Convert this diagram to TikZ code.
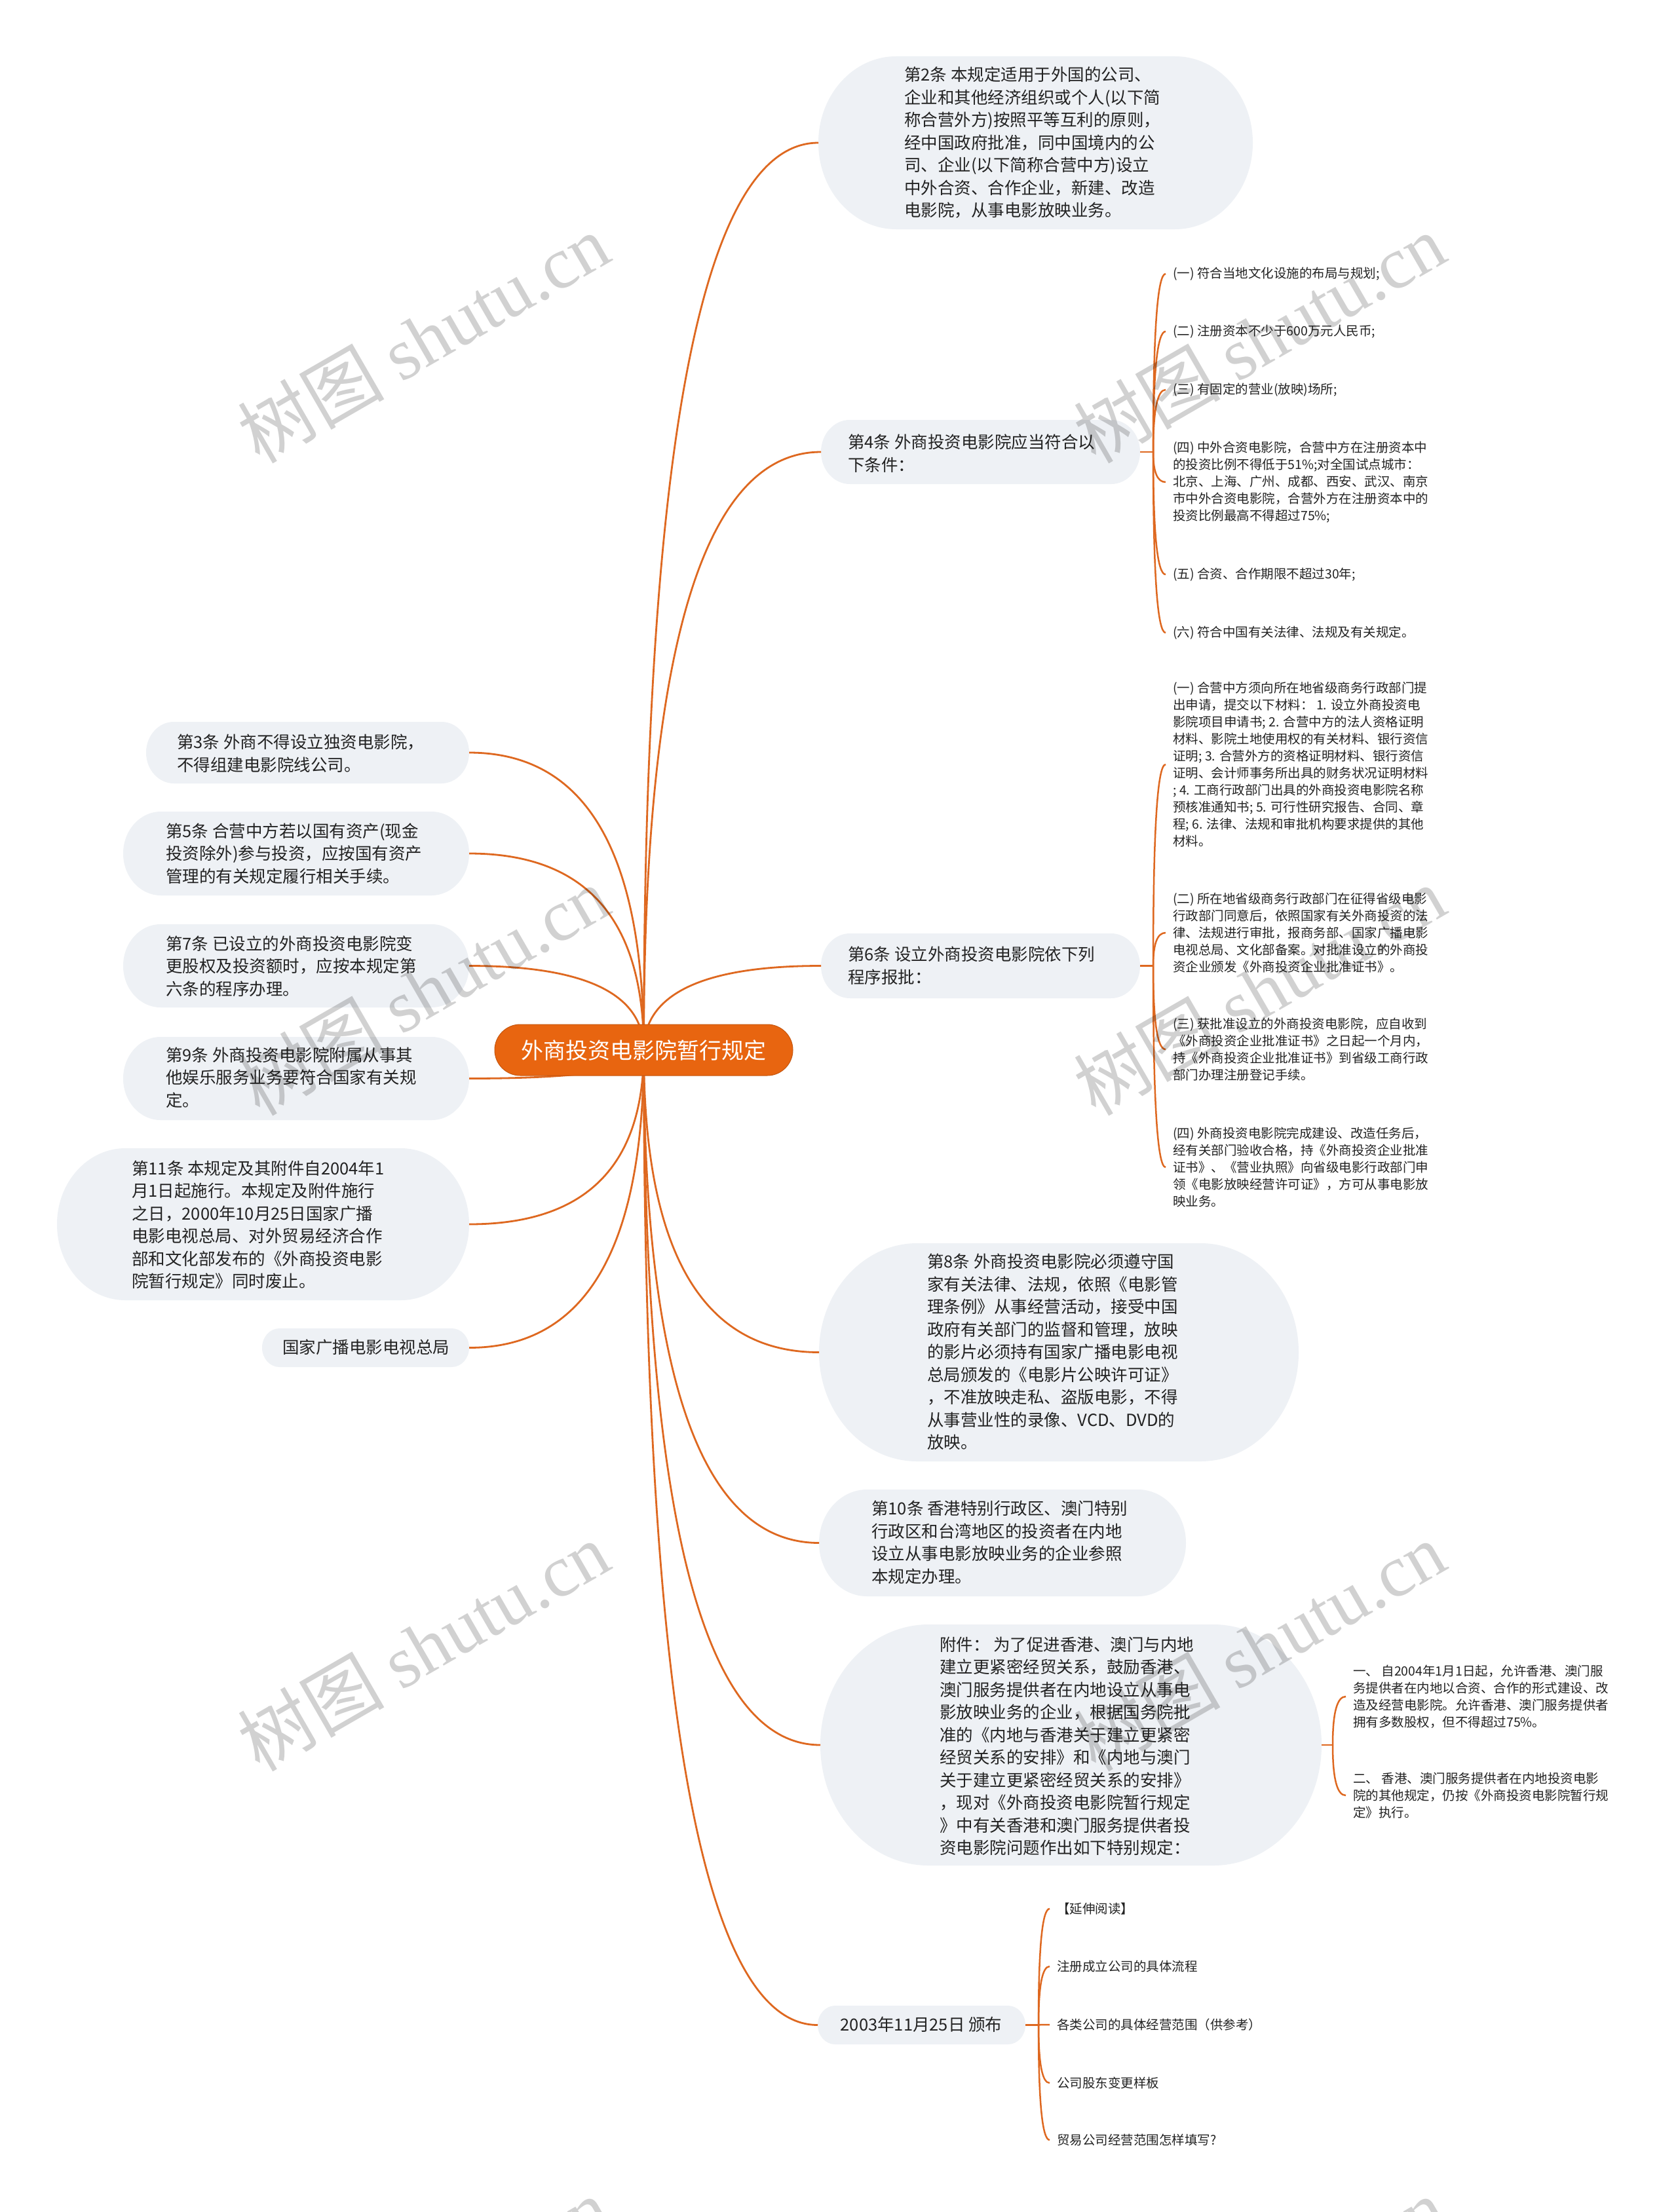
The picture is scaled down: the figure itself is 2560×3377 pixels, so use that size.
\documentclass[tikz,border=0pt]{standalone}
\usepackage{fontspec}
\setmainfont{Noto Sans CJK SC}
\newfontfamily\wmfont{Liberation Serif}
\usetikzlibrary{calc}
\pgfdeclarelayer{background}
\pgfsetlayers{background,main}
\definecolor{bubfill}{RGB}{238,241,245}
\definecolor{linec}{RGB}{222,104,32}
\definecolor{rootc}{RGB}{232,101,16}
\definecolor{txtc}{RGB}{34,34,34}
\tikzset{
  maintext/.style={font=\fontsize{25.5}{34.5}\selectfont, text=txtc, align=left, inner sep=0pt, anchor=west},
  subtext/.style={font=\fontsize{19.5}{26}\selectfont, text=txtc, align=left, inner xsep=11pt, inner ysep=0pt, anchor=west},
  rootnode/.style={fill=rootc, draw=rootc!85!black, line width=1pt, text=white, rounded corners=39pt, minimum width=455pt, minimum height=78pt, inner sep=0pt, font=\fontsize{34}{40}\selectfont},
  conn/.style={draw=linec, line width=2.8pt},
  subconn/.style={draw=linec, line width=2.5pt},
  wmark/.style={text=black, text opacity=0.18, font=\fontsize{112}{112}\selectfont, rotate=30, inner sep=0pt},
  bubnode/.style={inner sep=0pt, outer sep=0pt},
}
\newcommand\mkbubble[5]{%
  \node[bubnode, minimum width={(#4-#2)*1pt}, minimum height={(#5-#3)*1pt}] (#1) at ({(#2+#4)/2},{-(#3+#5)/2}) {};
  \begin{pgfonlayer}{background}
  \fill[bubfill] ({#2+0.45*(#5-#3)},{-#3}) -- ({#4-0.45*(#5-#3)},{-#3})
    arc[start angle=90,end angle=-90,x radius={0.45*(#5-#3)},y radius={0.5*(#5-#3)}]
    -- ({#2+0.45*(#5-#3)},{-#5})
    arc[start angle=270,end angle=90,x radius={0.45*(#5-#3)},y radius={0.5*(#5-#3)}] -- cycle;
  \end{pgfonlayer}
}
\newcommand\curvelink[3]{%
  \draw[#1] (#2) .. controls ($(#2)!0.667!(#2|-#3)$) and ($(#3)!0.667!(#2|-#3)$) .. (#3);
}
\begin{document}
\begin{tikzpicture}[x=1pt,y=1pt]
\useasboundingbox (0,0) rectangle (2560,-3377);
\begin{pgfonlayer}{background}
\fill[white] (0,0) rectangle (2560,-3377);
\end{pgfonlayer}

% root
\node[rootnode] (root) at (982.5,-1603) {外商投资电影院暂行规定};

% bubbles right
\mkbubble{n2}{1249}{86}{1912}{350}
\mkbubble{n4}{1253}{641}{1740}{739}
\mkbubble{n6}{1253}{1425}{1740}{1524}
\mkbubble{n8}{1250}{1898}{1982}{2231}
\mkbubble{n10}{1250}{2274}{1810}{2437}
\mkbubble{nA}{1252}{2480}{2017}{2848}
\mkbubble{nD}{1248}{3062}{1565}{3121}
% bubbles left
\mkbubble{n3}{223}{1102}{716}{1196}
\mkbubble{n5}{188}{1239}{716}{1367}
\mkbubble{n7}{188}{1411}{716}{1538}
\mkbubble{n9}{188}{1583}{716}{1710}
\mkbubble{n11}{87}{1753}{716}{1985}
\mkbubble{nG}{400}{2028}{716}{2087}

% texts right
\node[maintext] (t2) at (1380,-218) {第2条 本规定适用于外国的公司、\\企业和其他经济组织或个人(以下简\\称合营外方)按照平等互利的原则，\\经中国政府批准，同中国境内的公\\司、企业(以下简称合营中方)设立\\中外合资、合作企业，新建、改造\\电影院，从事电影放映业务。};
\node[maintext] (t4) at (1294,-692) {第4条 外商投资电影院应当符合以\\下条件：};
\node[maintext] (t6) at (1294,-1474) {第6条 设立外商投资电影院依下列\\程序报批：};
\node[maintext] (t8) at (1415,-2064) {第8条 外商投资电影院必须遵守国\\家有关法律、法规，依照《电影管\\理条例》从事经营活动，接受中国\\政府有关部门的监督和管理，放映\\的影片必须持有国家广播电影电视\\总局颁发的《电影片公映许可证》\\，不准放映走私、盗版电影，不得\\从事营业性的录像、VCD、DVD的\\放映。};
\node[maintext] (t10) at (1330,-2355) {第10条 香港特别行政区、澳门特别\\行政区和台湾地区的投资者在内地\\设立从事电影放映业务的企业参照\\本规定办理。};
\node[maintext] (tA) at (1434,-2666) {附件： 为了促进香港、澳门与内地\\建立更紧密经贸关系，鼓励香港、\\澳门服务提供者在内地设立从事电\\影放映业务的企业，根据国务院批\\准的《内地与香港关于建立更紧密\\经贸关系的安排》和《内地与澳门\\关于建立更紧密经贸关系的安排》\\，现对《外商投资电影院暂行规定\\》中有关香港和澳门服务提供者投\\资电影院问题作出如下特别规定：};
\node[maintext, anchor=center] (tD) at (1406,-3091) {2003年11月25日 颁布};

% texts left
\node[maintext] (t3) at (270,-1150) {第3条 外商不得设立独资电影院，\\不得组建电影院线公司。};
\node[maintext] (t5) at (253,-1303) {第5条 合营中方若以国有资产(现金\\投资除外)参与投资，应按国有资产\\管理的有关规定履行相关手续。};
\node[maintext] (t7) at (253,-1475) {第7条 已设立的外商投资电影院变\\更股权及投资额时，应按本规定第\\六条的程序办理。};
\node[maintext] (t9) at (253,-1645) {第9条 外商投资电影院附属从事其\\他娱乐服务业务要符合国家有关规\\定。};
\node[maintext] (t11) at (201,-1870) {第11条 本规定及其附件自2004年1\\月1日起施行。本规定及附件施行\\之日，2000年10月25日国家广播\\电影电视总局、对外贸易经济合作\\部和文化部发布的《外商投资电影\\院暂行规定》同时废止。};
\node[maintext] (tG) at (431,-2057) {国家广播电影电视总局};

% sub items of 第4条
\node[subtext] (c41) at (1779,-418) {(一) 符合当地文化设施的布局与规划;};
\node[subtext] (c42) at (1779,-506) {(二) 注册资本不少于600万元人民币;};
\node[subtext] (c43) at (1779,-595) {(三) 有固定的营业(放映)场所;};
\node[subtext] (c44) at (1779,-736) {(四) 中外合资电影院，合营中方在注册资本中\\的投资比例不得低于51\%;对全国试点城市：\\北京、上海、广州、成都、西安、武汉、南京\\市中外合资电影院，合营外方在注册资本中的\\投资比例最高不得超过75\%;};
\node[subtext] (c45) at (1779,-877) {(五) 合资、合作期限不超过30年;};
\node[subtext] (c46) at (1779,-966) {(六) 符合中国有关法律、法规及有关规定。};

% sub items of 第6条
\node[subtext] (c61) at (1779,-1167) {(一) 合营中方须向所在地省级商务行政部门提\\出申请，提交以下材料： 1. 设立外商投资电\\影院项目申请书; 2. 合营中方的法人资格证明\\材料、影院土地使用权的有关材料、银行资信\\证明; 3. 合营外方的资格证明材料、银行资信\\证明、会计师事务所出具的财务状况证明材料\\; 4. 工商行政部门出具的外商投资电影院名称\\预核准通知书; 5. 可行性研究报告、合同、章\\程; 6. 法律、法规和审批机构要求提供的其他\\材料。};
\node[subtext] (c62) at (1779,-1424) {(二) 所在地省级商务行政部门在征得省级电影\\行政部门同意后，依照国家有关外商投资的法\\律、法规进行审批，报商务部、国家广播电影\\电视总局、文化部备案。对批准设立的外商投\\资企业颁发《外商投资企业批准证书》。};
\node[subtext] (c63) at (1779,-1602) {(三) 获批准设立的外商投资电影院，应自收到\\《外商投资企业批准证书》之日起一个月内，\\持《外商投资企业批准证书》到省级工商行政\\部门办理注册登记手续。};
\node[subtext] (c64) at (1779,-1782) {(四) 外商投资电影院完成建设、改造任务后，\\经有关部门验收合格，持《外商投资企业批准\\证书》、《营业执照》向省级电影行政部门申\\领《电影放映经营许可证》，方可从事电影放\\映业务。};

% sub items of 附件
\node[subtext] (a1) at (2054,-2590) {一、 自2004年1月1日起，允许香港、澳门服\\务提供者在内地以合资、合作的形式建设、改\\造及经营电影院。允许香港、澳门服务提供者\\拥有多数股权，但不得超过75\%。};
\node[subtext] (a2) at (2054,-2741) {二、 香港、澳门服务提供者在内地投资电影\\院的其他规定，仍按《外商投资电影院暂行规\\定》执行。};

% sub items of 2003
\node[subtext] (d1) at (1602,-2914) {【延伸阅读】};
\node[subtext] (d2) at (1602,-3002) {注册成立公司的具体流程};
\node[subtext] (d3) at (1602,-3091) {各类公司的具体经营范围（供参考）};
\node[subtext] (d4) at (1602,-3180) {公司股东变更样板};
\node[subtext] (d5) at (1602,-3267) {贸易公司经营范围怎样填写?};

% branch points
\coordinate (b4) at ($(n4.east)+(20,0)$);
\coordinate (b6) at ($(n6.east)+(20,0)$);
\coordinate (bA) at ($(nA.east)+(17,0)$);
\coordinate (bD) at ($(nD.east)+(20,0)$);

\begin{pgfonlayer}{background}
% root links
\curvelink{conn}{root.center}{n2.west}
\curvelink{conn}{root.center}{n4.west}
\curvelink{conn}{root.center}{n6.west}
\curvelink{conn}{root.center}{n8.west}
\curvelink{conn}{root.center}{n10.west}
\curvelink{conn}{root.center}{nA.west}
\curvelink{conn}{root.center}{nD.west}
\curvelink{conn}{root.center}{n3.east}
\curvelink{conn}{root.center}{n5.east}
\curvelink{conn}{root.center}{n7.east}
\curvelink{conn}{root.center}{n9.east}
\curvelink{conn}{root.center}{n11.east}
\curvelink{conn}{root.center}{nG.east}
% sub links
\draw[subconn] (n4.east) -- (b4);
\curvelink{subconn}{b4}{c41.west}
\curvelink{subconn}{b4}{c42.west}
\curvelink{subconn}{b4}{c43.west}
\curvelink{subconn}{b4}{c44.west}
\curvelink{subconn}{b4}{c45.west}
\curvelink{subconn}{b4}{c46.west}
\draw[subconn] (n6.east) -- (b6);
\curvelink{subconn}{b6}{c61.west}
\curvelink{subconn}{b6}{c62.west}
\curvelink{subconn}{b6}{c63.west}
\curvelink{subconn}{b6}{c64.west}
\draw[subconn] (nA.east) -- (bA);
\curvelink{subconn}{bA}{a1.west}
\curvelink{subconn}{bA}{a2.west}
\draw[subconn] (nD.east) -- (bD);
\curvelink{subconn}{bD}{d1.west}
\curvelink{subconn}{bD}{d2.west}
\curvelink{subconn}{bD}{d3.west}
\curvelink{subconn}{bD}{d4.west}
\curvelink{subconn}{bD}{d5.west}
\end{pgfonlayer}

% watermarks
\node[wmark] (w1) at (646,-516) {树图 {\wmfont shutu.cn}};
\node[wmark] (w2) at (1922,-516) {树图 {\wmfont shutu.cn}};
\node[wmark] (w3) at (646,-1512) {树图 {\wmfont shutu.cn}};
\node[wmark] (w4) at (1922,-1512) {树图 {\wmfont shutu.cn}};
\node[wmark] (w5) at (646,-2513) {树图 {\wmfont shutu.cn}};
\node[wmark] (w6) at (1922,-2513) {树图 {\wmfont shutu.cn}};
\node[wmark] (w7) at (646,-3514) {树图 {\wmfont shutu.cn}};
\node[wmark] (w8) at (1922,-3514) {树图 {\wmfont shutu.cn}};
\end{tikzpicture}
\end{document}
